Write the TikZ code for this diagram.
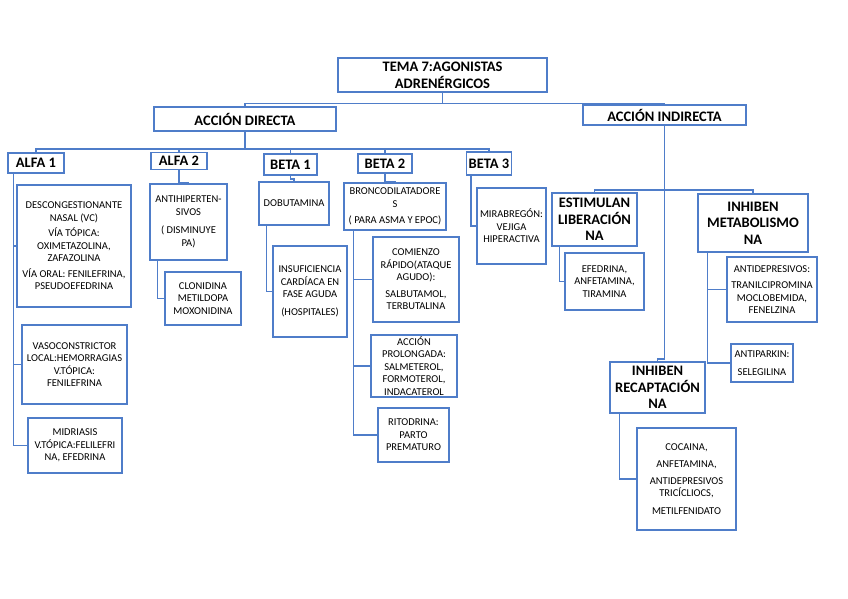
\documentclass[tikz,border=0pt]{standalone}
\usepackage{fontspec}
\setmainfont{Carlito}
\usepackage{tikz}
\usepackage{xcolor}
\definecolor{azul}{RGB}{79,125,201}

\begin{document}
\begin{tikzpicture}[
  x=1pt, y=-1pt,
  every node/.style={draw=azul, line width=1.5pt, rectangle, inner sep=0pt, align=center, text=black},
  titulo/.style={font=\fontsize{14.5}{16.7}\selectfont\bfseries},
  caja/.style={font=\fontsize{10.5}{12.5}\selectfont},
  con/.style={draw=azul, line width=1.5pt}
]
\useasboundingbox (0,0) rectangle (848,599);
\node[titulo, minimum width=209, minimum height=34] (tema) at (442.5,75) {TEMA 7:AGONISTAS\\ADRENÉRGICOS};
\node[titulo, minimum width=182, minimum height=24] (directa) at (245,119) {ACCIÓN DIRECTA};
\node[titulo, minimum width=163, minimum height=20] (indirecta) at (664.5,115) {ACCIÓN INDIRECTA};
\node[titulo, minimum width=56, minimum height=20] (alfa1) at (36,163) {ALFA 1};
\node[titulo, minimum width=56, minimum height=17] (alfa2) at (179,161) {ALFA 2};
\node[titulo, minimum width=53, minimum height=21] (beta1) at (290.5,164.5) {BETA 1};
\node[titulo, minimum width=54, minimum height=19] (beta2) at (385,163.5) {BETA 2};
\node[titulo, minimum width=45, minimum height=23] (beta3) at (489,163.5) {BETA 3};

\node[caja, minimum width=114, minimum height=122] (desc) at (74,246) {DESCONGESTIONANTE\\NASAL (VC)\\[3pt]VÍA TÓPICA:\\OXIMETAZOLINA,\\ZAFAZOLINA\\[3pt]VÍA ORAL: FENILEFRINA,\\PSEUDOEFEDRINA};
\node[caja, minimum width=105, minimum height=79] (vaso) at (74.5,364.5) {VASOCONSTRICTOR\\LOCAL:HEMORRAGIAS\\V.TÓPICA:\\FENILEFRINA};
\node[caja, minimum width=94, minimum height=55] (midriasis) at (75,445.5) {MIDRIASIS\\V.TÓPICA:FELILEFRI\\NA, EFEDRINA};
\node[caja, minimum width=77, minimum height=76] (antihip) at (188.5,222) {ANTIHIPERTEN-\\SIVOS\\[6pt]( DISMINUYE\\PA)};
\node[caja, minimum width=76, minimum height=53] (clonidina) at (203,298.5) {CLONIDINA\\METILDOPA\\MOXONIDINA};
\node[caja, minimum width=70, minimum height=43] (dobut) at (294,203.5) {DOBUTAMINA};
\node[caja, minimum width=74, minimum height=91] (insuf) at (310,291.5) {INSUFICIENCIA\\CARDÍACA EN\\FASE AGUDA\\[5pt](HOSPITALES)};
\node[caja, minimum width=102, minimum height=47] (bronco) at (395,206.5) {BRONCODILATADORE\\S\\[4pt]( PARA ASMA Y EPOC)};
\node[caja, minimum width=86, minimum height=85] (comienzo) at (416,279.5) {COMIENZO\\RÁPIDO(ATAQUE\\AGUDO):\\[4pt]SALBUTAMOL,\\TERBUTALINA};
\node[caja, minimum width=86, minimum height=62] (prolong) at (414,366) {ACCIÓN\\PROLONGADA:\\SALMETEROL,\\FORMOTEROL,\\INDACATEROL};
\node[caja, minimum width=71, minimum height=54] (ritodrina) at (413.5,435) {RITODRINA:\\PARTO\\PREMATURO};
\node[caja, minimum width=69, minimum height=76] (mirab) at (511.5,226) {MIRABREGÓN:\\VEJIGA\\HIPERACTIVA};

\node[titulo, minimum width=85, minimum height=53] (estimulan) at (594.5,219.5) {ESTIMULAN\\LIBERACIÓN\\NA};
\node[caja, minimum width=79, minimum height=57] (efedrina) at (604.5,281.5) {EFEDRINA,\\ANFETAMINA,\\TIRAMINA};
\node[titulo, minimum width=110, minimum height=58] (inhmetab) at (753,223) {INHIBEN\\METABOLISMO\\NA};
\node[caja, minimum width=90, minimum height=65] (antidep) at (772,289.5) {ANTIDEPRESIVOS:\\[4pt]TRANILCIPROMINA\\MOCLOBEMIDA,\\FENELZINA};
\node[caja, minimum width=62, minimum height=38] (antiparkin) at (762,363) {ANTIPARKIN:\\[5pt]SELEGILINA};
\node[titulo, minimum width=95, minimum height=51] (recapt) at (657.5,387.5) {INHIBEN\\RECAPTACIÓN\\NA};
\node[caja, minimum width=99, minimum height=102] (cocaina) at (686.5,479) {COCAINA,\\[5pt]ANFETAMINA,\\[4pt]ANTIDEPRESIVOS\\TRICÍCLIOCS,\\[5pt]METILFENIDATO};

\draw[con] (tema.south) -- ++(0,11) -| (directa.north);
\draw[con] (tema.south) -- ++(0,11) -| (indirecta.north);
\foreach \n in {alfa1,alfa2,beta1,beta2,beta3}
  \draw[con] (directa.south) -- ++(0,17) -| (\n.north);
\draw[con] (alfa2.south) -- ++(0,12) -| (antihip.north);
\draw[con] (beta1.south) -- ++(0,3) -| (dobut.north);
\draw[con] (beta2.south) -- ++(0,8) -| (bronco.north);
\foreach \n in {desc,vaso,midriasis}
  \draw[con] ([xshift=6]alfa1.south west) |- (\n.west);
\draw[con] ([xshift=8]antihip.south west) |- (clonidina.west);
\draw[con] ([xshift=8]dobut.south west) |- (insuf.west);
\foreach \n in {comienzo,prolong,ritodrina}
  \draw[con] ([xshift=10]bronco.south west) |- (\n.west);
\draw[con] ([xshift=5]beta3.south west) |- (mirab.west);
\draw[con] (indirecta.south) -- ++(0,64) -| (estimulan.north);
\draw[con] (indirecta.south) -- ++(0,64) -| (inhmetab.north);
\draw[con] (indirecta.south) -- ++(0,233) -| (recapt.north);
\draw[con] ([xshift=8]estimulan.south west) |- (efedrina.west);
\foreach \n in {antidep,antiparkin}
  \draw[con] ([xshift=10]inhmetab.south west) |- (\n.west);
\draw[con] ([xshift=10]recapt.south west) |- (cocaina.west);
\end{tikzpicture}
\end{document}
